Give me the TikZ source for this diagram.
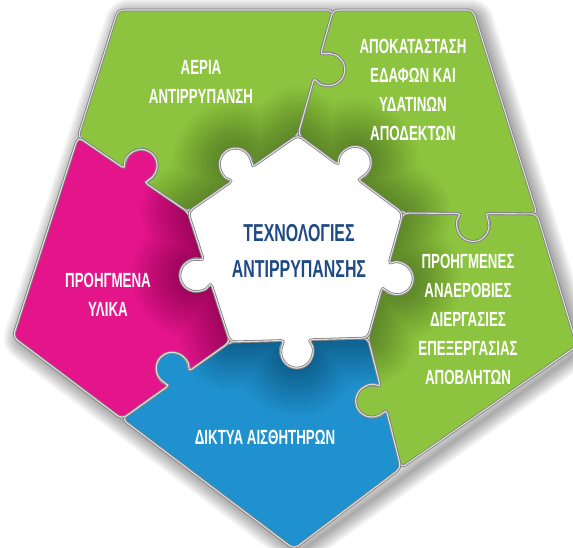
\documentclass[tikz,border=0pt]{standalone}
\usepackage{fontspec}
\setmainfont{Liberation Sans}
\newfontfamily\puzzlefont{Liberation Sans}[FakeStretch=0.65]
\usetikzlibrary{calc}
\definecolor{leafgreen}{HTML}{8CC43F}
\definecolor{hotpink}{HTML}{E4148A}
\definecolor{skyblue}{HTML}{1F91CF}
\definecolor{inkblue}{HTML}{1E4A86}

% line to the neck of a knob, then round the bulb (centre, start, end angle)
\newcommand\knob[3]{-- ($(#1)+(#2:16)$) arc[start angle=#2, end angle=#3, radius=16]}

% the five outer pieces and the hub
\newcommand\pathAir{(118,10) -- (333,10) \knob{k1}{-123.0}{154.2} -- (298,135)
  \knob{c1}{13.6}{-263.6} -- (188,212) \knob{k5}{82.9}{-194.3} -- (78,137) -- cycle}
\newcommand\pathSoil{(333,10) -- (473,10) -- (537,214) \knob{k2}{-48.6}{228.6} -- (403,213)
  \knob{c2}{85.2}{-192.0} -- (298,135) \knob{k1}{154.2}{-123.0} -- cycle}
\newcommand\pathWaste{(403,213) \knob{k2}{-131.4}{-408.6} -- (537,214) -- (577,346) -- (401,468)
  \knob{k3}{27.2}{304.4} -- (368,338) \knob{c3}{154.2}{-123.0} -- cycle}
\newcommand\pathSensor{(230,342) \knob{c4}{-133.1}{-410.3} -- (368,338) \knob{k3}{-55.6}{-332.8}
  -- (401,468) -- (294,549) -- (122,419) \knob{k4}{95.9}{373.1} -- cycle}
\newcommand\pathMaterial{(188,212) \knob{c5}{-59.3}{-336.5} -- (230,342) \knob{k4}{13.1}{-264.1}
  -- (122,419) -- (13,337) -- (78,137) \knob{k5}{165.7}{442.9} -- cycle}
\newcommand\pathCore{(298,135) \knob{c2}{168.0}{445.2} -- (403,213) \knob{c3}{237.0}{514.2}
  -- (368,338) \knob{c4}{-50.3}{226.9} -- (230,342) \knob{c5}{23.5}{300.7}
  -- (188,212) \knob{c1}{96.4}{373.6} -- cycle}
\newcommand\pathOuter{(118,10) -- (473,10) -- (577,346) -- (294,549) -- (13,337) -- cycle}

\begin{document}
\begin{tikzpicture}[
    x=1pt, y=-1pt,
    piece/.style={rounded corners=5pt},
    seam/.style={draw=black!50, double=black!12, double distance=1.1pt,
                 line width=0.8pt, rounded corners=5pt, line join=round},
    halo/.style={black, opacity=0.022, line join=round, rounded corners=6pt},
    glow/.style={black, opacity=0.018, line join=round},
    tag/.style={text=white, align=center,
                font=\puzzlefont\bfseries\fontsize{20.5}{29}\selectfont},
    title/.style={text=inkblue, align=center,
                  font=\puzzlefont\bfseries\fontsize{24.5}{36}\selectfont},
  ]
  \useasboundingbox (0,0) rectangle (573,548);
  \fill[white] (0,0) rectangle (573,548);

  % knob centres on the seams between pieces
  \coordinate (k1) at (328.8,69.6);
  \coordinate (k2) at (473,225.5);
  \coordinate (k3) at (371.7,401.1);
  \coordinate (k4) at (172.2,368.4);
  \coordinate (k5) at (141.2,165.5);
  % knob centres on the hub
  \coordinate (c1) at (235.5,164.1);
  \coordinate (c2) at (355.2,162.5);
  \coordinate (c3) at (397.1,278.6);
  \coordinate (c4) at (296.8,352.1);
  \coordinate (c5) at (195.9,275.4);

  % soft shadow round the whole pentagon
  \begin{scope}[xshift=4pt, yshift=-4pt]
    \foreach \w in {2,4,...,30}
      \draw[halo, line width=\w pt] \pathOuter;
  \end{scope}

  \fill[piece, leafgreen] \pathAir;
  \fill[piece, leafgreen] \pathSoil;
  \fill[piece, leafgreen] \pathWaste;
  \fill[piece, skyblue] \pathSensor;
  \fill[piece, hotpink] \pathMaterial;

  % darker towards the hub
  \begin{scope}
    \clip \pathOuter;
    \foreach \w in {6,12,...,96}
      \draw[glow, line width=\w pt] \pathCore;
  \end{scope}

  \draw[seam] \pathAir;
  \draw[seam] \pathSoil;
  \draw[seam] \pathWaste;
  \draw[seam] \pathSensor;
  \draw[seam] \pathMaterial;
  \filldraw[seam, fill=white] \pathCore;

  \node[tag] (air) at (201,81.5) {ΑΕΡΙΑ\\ΑΝΤΙΡΡΥΠΑΝΣΗ};
  \node[tag] (soil) at (413,90) {ΑΠΟΚΑΤΑΣΤΑΣΗ\\ΕΔΑΦΩΝ ΚΑΙ\\ΥΔΑΤΙΝΩΝ\\ΑΠΟΔΕΚΤΩΝ};
  \node[tag] (waste) at (468,319) {ΠΡΟΗΓΜΕΝΕΣ\\ΑΝΑΕΡΟΒΙΕΣ\\ΔΙΕΡΓΑΣΙΕΣ\\ΕΠΕΞΕΡΓΑΣΙΑΣ\\ΑΠΟΒΛΗΤΩΝ};
  \node[tag] (sensors) at (265,437.5) {ΔΙΚΤΥΑ ΑΙΣΘΗΤΗΡΩΝ};
  \node[tag] (materials) at (108,295) {ΠΡΟΗΓΜΕΝΑ\\ΥΛΙΚΑ};
  \node[title] (core) at (299,251) {ΤΕΧΝΟΛΟΓΙΕΣ\\ΑΝΤΙΡΡΥΠΑΝΣΗΣ};
\end{tikzpicture}
\end{document}
